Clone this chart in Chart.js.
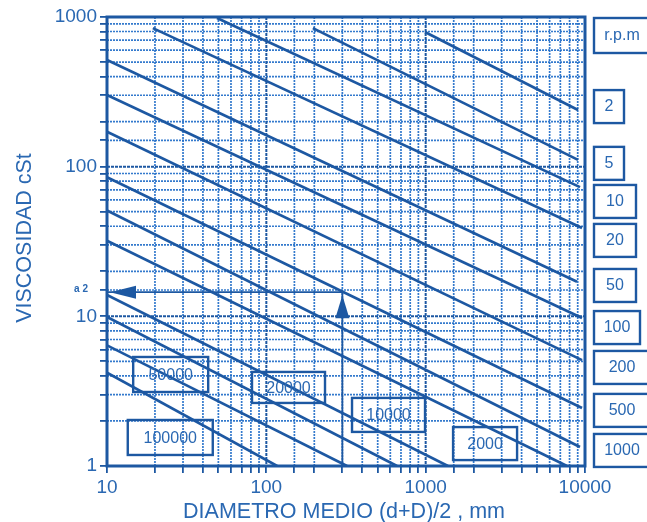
<!DOCTYPE html>
<html>
<head>
<meta charset="utf-8">
<script src="https://cdn.jsdelivr.net/npm/chart.js@4.4.1/dist/chart.umd.min.js"></script>
<style>
  html, body { margin: 0; padding: 0; background: #ffffff; }
  #wrap { width: 647px; height: 522px; position: relative; }
</style>
</head>
<body>
<div id="wrap"><canvas id="chart" width="647" height="522"></canvas></div>
<script>
// Speed lines (r.p.m): each one is a straight segment on log-log axes
const rpm            = [2,    5,    10,   20,   50,   100,  200,  500,  1000, 2000, 10000, 20000, 50000, 100000];
const startDiameter  = [990,  196,  49,   19.4, 10,   10,   10,   10,   10,   10,   10,    10,    10,    10];
const startViscosity = [794,  843,  985,  843,  516,  301,  171,  85,   51,   32,   13.9,  9.9,   6.4,   4.2];
const endDiameter    = [9040, 9040, 9300, 9580, 8910, 9580, 9580, 9580, 9300, 7710, 1380,  661,   321,   117];
const endViscosity   = [239,  111,  73,   38.9, 17,   9.75, 5.1,  2.44, 1.34, 1,    1,     1,     1,     1];

// Axis ticks
const xTickLabels = [10, 100, 1000, 10000];
const yTickLabels = [1, 10, 100, 1000];

// Worked example: mean diameter 300 mm at 500 r.p.m
const exampleDiameter = 300;
const exampleViscosity = 14.5;
const exampleLabel = 'a 2';

// Label boxes for the speeds printed at the right of the grid
const rightLabels   = ['2', '5', '10', '20', '50', '100', '200', '500', '1000'];
const rightLabelNu  = [254, 106, 59, 32.4, 16.2, 8.48, 4.59, 2.37, 1.28];
const rightLabelW   = [30, 30, 42, 42, 42, 46, 56, 56, 56];

// Label boxes inside the grid (top-left corner in axis units, size in px)
const innerLabels = [
  { text: '50000',  d: 14.6, nu: 5.35, w: 75, h: 35 },
  { text: '100000', d: 13.5, nu: 2.03, w: 85, h: 35 },
  { text: '20000',  d: 81.3, nu: 4.25, w: 73, h: 31 },
  { text: '10000',  d: 345,  nu: 2.85, w: 73, h: 34 },
  { text: '2000',   d: 1486, nu: 1.82, w: 64, h: 33 }
];

const LINE = '#1d58a2';
const TEXT = '#2a68b2';
const GRID = 'rgba(30,108,200,0.9)';
const FONT = '"Liberation Sans", Arial, Helvetica, sans-serif';

const datasets = rpm.map((n, i) => ({
  label: n + ' r.p.m',
  data: [
    { x: startDiameter[i], y: startViscosity[i] },
    { x: endDiameter[i],   y: endViscosity[i] }
  ],
  borderColor: LINE,
  borderWidth: 2.7,
  pointRadius: 0,
  fill: false
}));

datasets.push({
  label: 'example',
  data: [
    { x: 10, y: exampleViscosity },
    { x: exampleDiameter, y: exampleViscosity },
    { x: exampleDiameter, y: 1 }
  ],
  borderColor: LINE,
  borderWidth: 1.8,
  pointRadius: 0,
  fill: false
});

function isDecade(v) {
  const l = Math.log10(v);
  return Math.abs(l - Math.round(l)) < 1e-6;
}

const decorations = {
  id: 'decorations',
  beforeDatasetsDraw(chart) {
    const { ctx, chartArea: a, scales: { x, y } } = chart;
    ctx.save();
    // minor grid, dotted
    ctx.strokeStyle = GRID;
    ctx.lineWidth = 1.7;
    ctx.setLineDash([2, 1]);
    x.ticks.forEach(t => {
      if (isDecade(t.value)) return;
      const px = x.getPixelForValue(t.value);
      ctx.beginPath(); ctx.moveTo(px, a.top); ctx.lineTo(px, a.bottom); ctx.stroke();
    });
    y.ticks.forEach(t => {
      if (isDecade(t.value)) return;
      const py = y.getPixelForValue(t.value);
      ctx.beginPath(); ctx.moveTo(a.left, py); ctx.lineTo(a.right, py); ctx.stroke();
    });
    // decade grid
    ctx.setLineDash([3, 1]);
    ctx.strokeStyle = LINE;
    ctx.lineWidth = 2;
    x.ticks.forEach(t => {
      if (!isDecade(t.value)) return;
      const px = x.getPixelForValue(t.value);
      ctx.beginPath(); ctx.moveTo(px, a.top); ctx.lineTo(px, a.bottom); ctx.stroke();
    });
    y.ticks.forEach(t => {
      if (!isDecade(t.value)) return;
      const py = y.getPixelForValue(t.value);
      ctx.beginPath(); ctx.moveTo(a.left, py); ctx.lineTo(a.right, py); ctx.stroke();
    });
    ctx.restore();
  },
  afterDatasetsDraw(chart) {
    const { ctx, chartArea: a, scales: { x, y } } = chart;
    ctx.save();
    // frame
    ctx.strokeStyle = LINE;
    ctx.lineWidth = 3;
    ctx.strokeRect(a.left, a.top, a.right - a.left, a.bottom - a.top);

    // arrow heads of the worked example
    const ex = x.getPixelForValue(exampleDiameter);
    const ey = y.getPixelForValue(exampleViscosity);
    ctx.fillStyle = LINE;
    ctx.beginPath();
    ctx.moveTo(a.left + 3, ey);
    ctx.lineTo(a.left + 29, ey - 6.5);
    ctx.lineTo(a.left + 29, ey + 6.5);
    ctx.closePath(); ctx.fill();
    ctx.beginPath();
    ctx.moveTo(ex, ey + 3);
    ctx.lineTo(ex - 7, ey + 26);
    ctx.lineTo(ex + 7, ey + 26);
    ctx.closePath(); ctx.fill();

    // example label beside the y axis
    ctx.fillStyle = TEXT;
    ctx.font = 'bold 10px ' + FONT;
    ctx.textAlign = 'right';
    ctx.textBaseline = 'middle';
    ctx.fillText(exampleLabel, 88, ey - 3);

    // label boxes
    ctx.strokeStyle = LINE;
    ctx.lineWidth = 2.4;
    ctx.font = '16px ' + FONT;
    ctx.textAlign = 'center';
    ctx.textBaseline = 'middle';
    const bx = a.right + 9;
    // r.p.m header
    ctx.strokeRect(bx, a.top + 1, 58, 35);
    ctx.fillText('r.p.m', bx + 28, a.top + 19);
    rightLabels.forEach((t, i) => {
      const cy = y.getPixelForValue(rightLabelNu[i]);
      const w = rightLabelW[i];
      ctx.strokeRect(bx, cy - 16, w, 33);
      ctx.fillText(t, bx + Math.min(w, 56) / 2, cy + 1);
    });
    innerLabels.forEach(l => {
      const lx = x.getPixelForValue(l.d);
      const ly = y.getPixelForValue(l.nu);
      ctx.strokeRect(lx, ly, l.w, l.h);
      ctx.fillText(l.text, lx + l.w / 2, ly + l.h / 2 + 1);
    });

    // axis titles
    ctx.font = '21.5px ' + FONT;
    ctx.textAlign = 'center';
    ctx.textBaseline = 'alphabetic';
    ctx.fillText('DIAMETRO MEDIO (d+D)/2 , mm', (a.left + a.right) / 2 - 2, 518);
    ctx.translate(31, 238);
    ctx.rotate(-Math.PI / 2);
    ctx.fillText('VISCOSIDAD cSt', 0, 0);
    ctx.restore();
  }
};

new Chart(document.getElementById('chart'), {
  type: 'line',
  data: { datasets },
  plugins: [decorations],
  options: {
    responsive: false,
    animation: false,
    devicePixelRatio: 1,
    layout: { padding: { top: 17, right: 62, left: 0, bottom: 0 } },
    plugins: { legend: { display: false }, tooltip: { enabled: false } },
    scales: {
      x: {
        type: 'logarithmic',
        min: 10,
        max: 10000,
        afterFit: s => { s.height = 56; },
        grid: { drawOnChartArea: false, drawTicks: true, tickLength: 7, color: LINE, lineWidth: 1.8 },
        border: { display: false },
        ticks: {
          autoSkip: false,
          maxRotation: 0,
          padding: 3,
          color: TEXT,
          font: { family: FONT, size: 19 },
          callback: v => xTickLabels.includes(v) ? String(v) : ''
        }
      },
      y: {
        type: 'logarithmic',
        min: 1,
        max: 1000,
        afterFit: s => { s.width = 107; },
        grid: { drawOnChartArea: false, drawTicks: true, tickLength: 7, color: LINE, lineWidth: 1.8 },
        border: { display: false },
        ticks: {
          autoSkip: false,
          padding: 3,
          color: TEXT,
          font: { family: FONT, size: 19 },
          callback: v => yTickLabels.includes(v) ? String(v) : ''
        }
      }
    }
  }
});
</script>
</body>
</html>
